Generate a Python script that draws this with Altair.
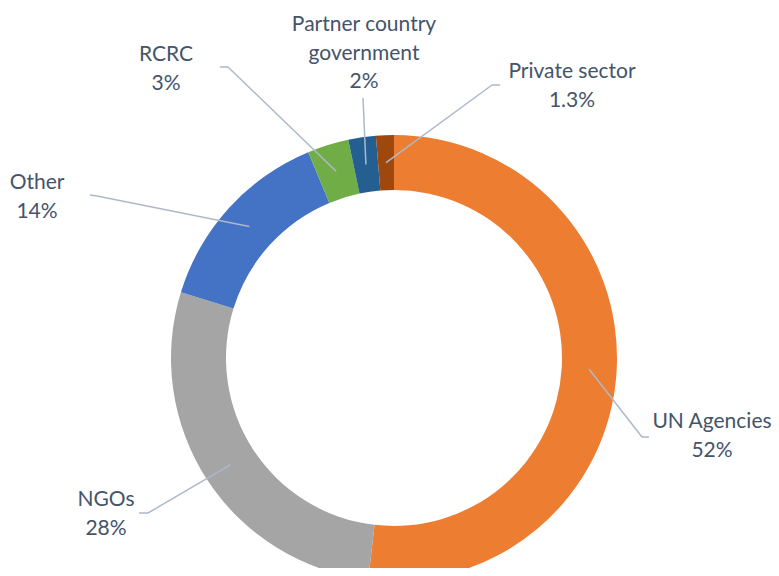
import textwrap
import altair as alt
import pandas as pd

# ---- data ----
categories = ["UN Agencies", "NGOs", "Other", "RCRC", "Partner country government", "Private sector"]
values = [52, 28, 14, 3, 2, 1.3]

# ---- styles / layout ----
colors = ["#ED7D31", "#A5A5A5", "#4472C4", "#70AD47", "#255E91", "#9E480E"]
CX, CY = 386, 350          # donut centre (view coords)
R_OUT, R_IN = 223, 168
R_MID = (R_OUT + R_IN) / 2
# label first-line centres and leader-line elbows/ends (layout only)
label_x = [704, 98, 29, 158, 356, 564]
label_y = [414, 492, 175, 47, 17, 64]
elbow_x = [634, 140, 89, 220, 355, 484]
elbow_y = [429, 505, 188, 59, 90, 77]
end_x = [641, 131, 82, 212, 355, 492]
end_y = [429, 505, 187, 59, 90, 77]

lines = [textwrap.wrap(c, 16) + [f"{v:g}%"] for c, v in zip(categories, values)]

df = pd.DataFrame({
    "category": categories,
    "value": values,
    "order": list(range(len(categories))),
    "lines": lines,
    "lx": label_x, "ly": label_y,
    "kx": elbow_x, "ky": elbow_y,
    "ex": end_x, "ey": end_y,
})

base = alt.Chart(df)

arcs = base.mark_arc(outerRadius=R_OUT, innerRadius=R_IN).encode(
    theta=alt.Theta("value:Q", stack=True),
    order=alt.Order("order:Q"),
    color=alt.Color("category:N", scale=alt.Scale(domain=categories, range=colors), legend=None),
    x=alt.value(CX),
    y=alt.value(CY),
)

geo = base.transform_window(
    cum="sum(value)", sort=[alt.SortField("order")], frame=[None, 0]
).transform_joinaggregate(
    total="sum(value)"
).transform_calculate(
    mid="(datum.cum - datum.value/2) / datum.total * 2 * PI",
).transform_calculate(
    sx=f"{CX} + {R_MID} * sin(datum.mid)",
    sy=f"{CY} - {R_MID} * cos(datum.mid)",
)

LINE_COLOR = "#ADB9CA"
leader1 = geo.mark_rule(color=LINE_COLOR, strokeWidth=1.5).encode(
    x=alt.X("sx:Q", scale=None), y=alt.Y("sy:Q", scale=None),
    x2="kx:Q", y2="ky:Q",
)
leader2 = geo.mark_rule(color=LINE_COLOR, strokeWidth=1.5).encode(
    x=alt.X("kx:Q", scale=None), y=alt.Y("ky:Q", scale=None),
    x2="ex:Q", y2="ey:Q",
)

labels = base.mark_text(
    font="Lato", fontSize=21, color="#44546A", align="center", baseline="middle", lineHeight=28.5,
).encode(
    x=alt.X("lx:Q", scale=None), y=alt.Y("ly:Q", scale=None),
    text="lines",
)

chart = alt.layer(arcs, leader1, leader2, labels).properties(
    width=763, height=560, padding=0, autosize="none",
).configure_view(stroke=None)

chart.save("out.html", embed_options={"renderer": "svg", "actions": False})
